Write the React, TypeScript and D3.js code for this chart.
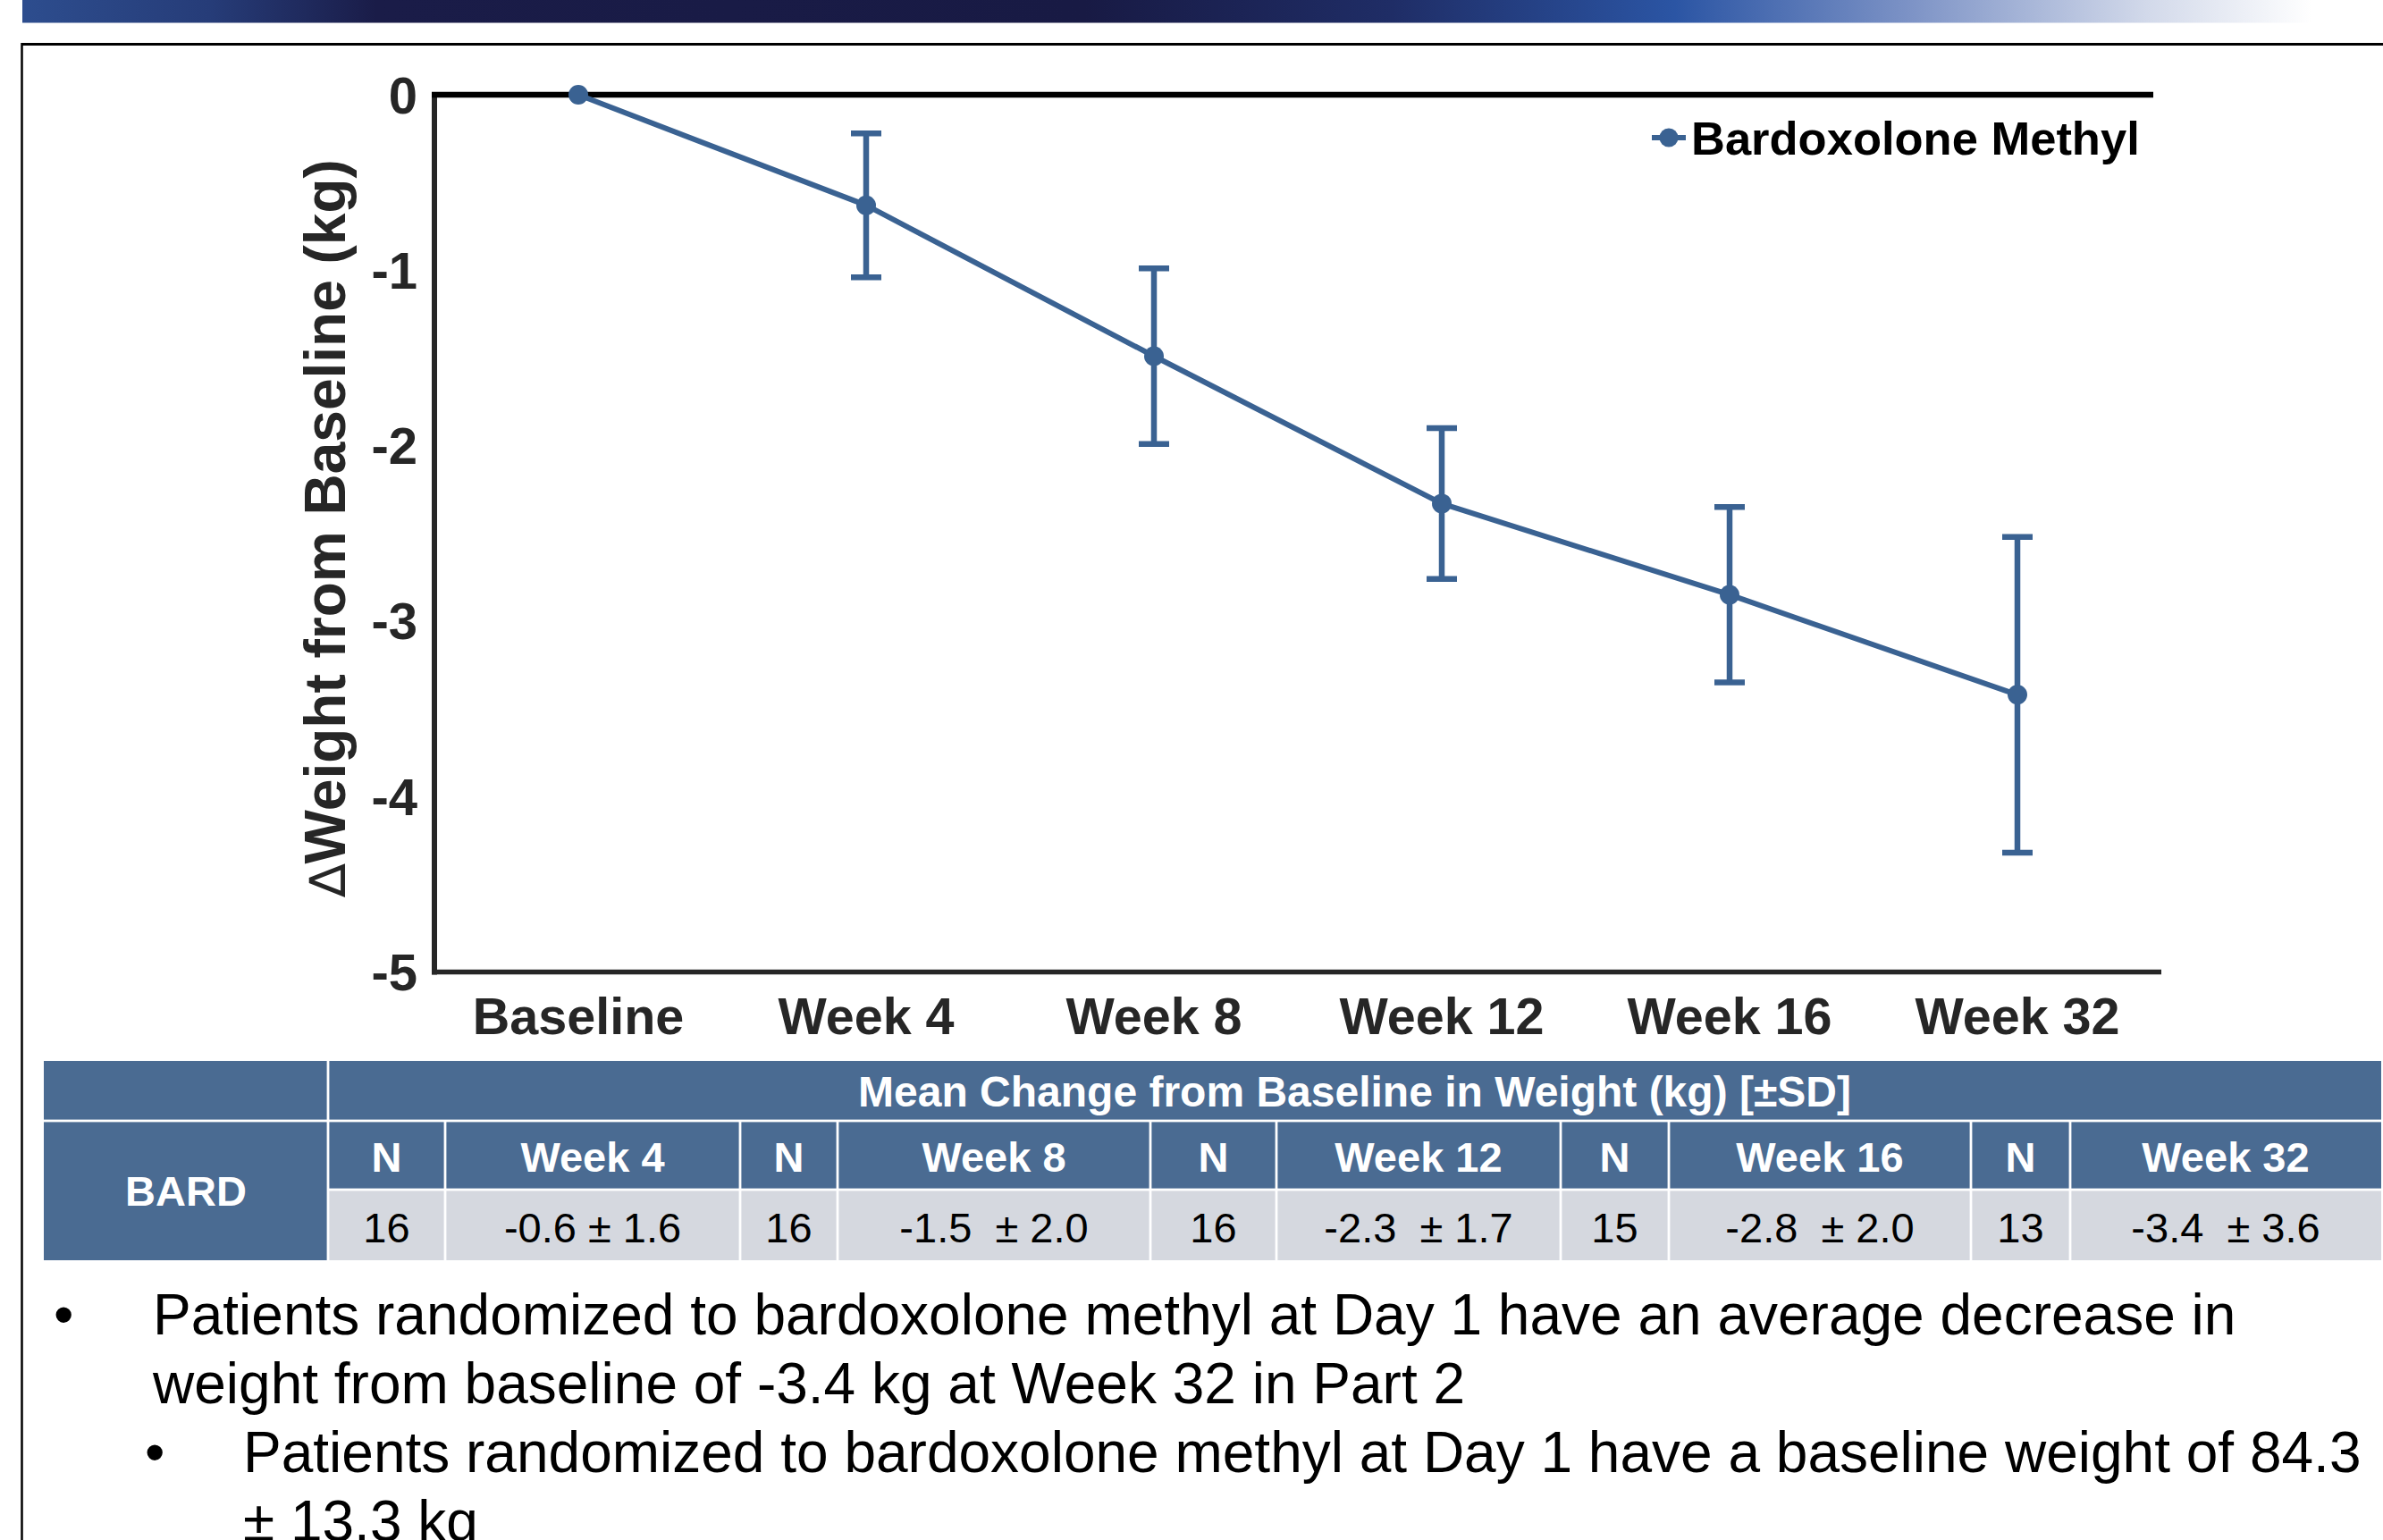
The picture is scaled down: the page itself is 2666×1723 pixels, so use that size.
import React from 'react';
import * as d3 from 'd3';

// ---------- data ----------
const categories = ['Baseline', 'Week 4', 'Week 8', 'Week 12', 'Week 16', 'Week 32'];
const meanChange = [0, -0.63, -1.49, -2.33, -2.85, -3.42];
const errorHalf = [0, 0.41, 0.50, 0.43, 0.50, 0.90];
const yTicks = [0, -1, -2, -3, -4, -5];
const seriesName = 'Bardoxolone Methyl';

const tableTitle = 'Mean Change from Baseline in Weight (kg) [±SD]';
const tableGroup = 'BARD';
const tableWeeks = ['Week 4', 'Week 8', 'Week 12', 'Week 16', 'Week 32'];
const tableN = ['16', '16', '16', '15', '13'];
const tableValues = ['-0.6 ± 1.6', '-1.5  ± 2.0', '-2.3  ± 1.7', '-2.8  ± 2.0', '-3.4  ± 3.6'];

const bulletLines = [
  { level: 0, bullet: true, text: 'Patients randomized to bardoxolone methyl at Day 1 have an average decrease in' },
  { level: 0, bullet: false, text: 'weight from baseline of -3.4 kg at Week 32 in Part 2' },
  { level: 1, bullet: true, text: 'Patients randomized to bardoxolone methyl at Day 1 have a baseline weight of 84.3' },
  { level: 1, bullet: false, text: '± 13.3 kg' },
];

// ---------- layout ----------
const W = 2666;
const H = 1723;
const FONT = '"Liberation Sans", Arial, Helvetica, sans-serif';
const BLUE = '#3A6292';
const AXIS = '#262626';
const HEAD = '#4A6B92';
const CELL = '#D5D8DF';

const x = d3.scaleBand<string>().domain(categories).range([486, 2418]).padding(0);
const y = d3.scaleLinear().domain([-5, 0]).range([1087.5, 106]);

// table column boundaries
const colEdges = [49, 367, 498, 828, 937, 1287, 1428, 1746, 1867, 2205, 2316, 2664];
const rowEdges = [1187, 1254, 1331, 1410];

export default function App() {
  const line = d3
    .line<number>()
    .x((_, i) => (x(categories[i]) as number) + x.bandwidth() / 2)
    .y((d) => y(d));

  const cx = (i: number) => (x(categories[i]) as number) + x.bandwidth() / 2;
  const gap = 1.4;

  const cells: React.ReactNode[] = [];
  cells.push(
    <rect key="r0c0" x={colEdges[0]} y={rowEdges[0]} width={colEdges[1] - colEdges[0] - gap} height={rowEdges[1] - rowEdges[0] - gap} fill={HEAD} />
  );
  cells.push(
    <rect key="r0c1" x={colEdges[1] + gap} y={rowEdges[0]} width={colEdges[11] - colEdges[1] - gap} height={rowEdges[1] - rowEdges[0] - gap} fill={HEAD} />
  );
  cells.push(
    <text key="title" x={(colEdges[1] + colEdges[11]) / 2} y={(rowEdges[0] + rowEdges[1]) / 2 + 17} textAnchor="middle" fontFamily={FONT} fontWeight="bold" fontSize={48} fill="#ffffff">
      {tableTitle}
    </text>
  );
  cells.push(
    <rect key="bard" x={colEdges[0]} y={rowEdges[1] + gap} width={colEdges[1] - colEdges[0] - gap} height={rowEdges[3] - rowEdges[1] - gap} fill={HEAD} />
  );
  cells.push(
    <text key="bardt" x={(colEdges[0] + colEdges[1]) / 2} y={(rowEdges[1] + rowEdges[3]) / 2 + 17} textAnchor="middle" fontFamily={FONT} fontWeight="bold" fontSize={47} fill="#ffffff">
      {tableGroup}
    </text>
  );
  for (let c = 1; c < 11; c++) {
    const x0 = colEdges[c] + gap;
    const w = colEdges[c + 1] - colEdges[c] - 2 * gap + (c === 10 ? gap : 0);
    const k = Math.floor((c - 1) / 2);
    const isN = (c - 1) % 2 === 0;
    const mid = (colEdges[c] + colEdges[c + 1]) / 2;
    cells.push(<rect key={`h${c}`} x={x0} y={rowEdges[1] + gap} width={w} height={rowEdges[2] - rowEdges[1] - 2 * gap} fill={HEAD} />);
    cells.push(<rect key={`d${c}`} x={x0} y={rowEdges[2] + gap} width={w} height={rowEdges[3] - rowEdges[2] - gap} fill={CELL} />);
    cells.push(
      <text key={`ht${c}`} x={mid} y={(rowEdges[1] + rowEdges[2]) / 2 + 18.5} textAnchor="middle" fontFamily={FONT} fontWeight="bold" fontSize={47} fill="#ffffff">
        {isN ? 'N' : tableWeeks[k]}
      </text>
    );
    cells.push(
      <text key={`dt${c}`} x={mid} y={(rowEdges[2] + rowEdges[3]) / 2 + 19} textAnchor="middle" fontFamily={FONT} fontSize={47} fill="#000000" style={{ whiteSpace: 'pre' }}>
        {isN ? tableN[k] : tableValues[k]}
      </text>
    );
  }

  return (
    <svg
      width={W}
      height={H}
      viewBox={`0 0 ${W} ${H}`}
      style={{ position: 'absolute', left: 0, top: 0, display: 'block', background: '#ffffff' }}
    >
      <defs>
        <linearGradient id="topbar" x1="0" x2="1" y1="0" y2="0">
          <stop offset="0" stopColor="#2d4d8e" />
          <stop offset="0.08" stopColor="#263c78" />
          <stop offset="0.15" stopColor="#1a1c48" />
          <stop offset="0.45" stopColor="#181a44" />
          <stop offset="0.58" stopColor="#1f2d66" />
          <stop offset="0.7" stopColor="#2b55a4" />
          <stop offset="0.8" stopColor="#7d93c6" />
          <stop offset="0.9" stopColor="#d2d9ea" />
          <stop offset="0.97" stopColor="#ffffff" />
        </linearGradient>
      </defs>
      <rect x={0} y={0} width={W} height={H} fill="#ffffff" />
      <rect x={25} y={0} width={W - 25} height={25.5} fill="url(#topbar)" />
      <line x1={24} x2={W} y1={49.5} y2={49.5} stroke="#000" strokeWidth={3} />
      <line x1={24.5} x2={24.5} y1={48} y2={H} stroke="#000" strokeWidth={2.5} />

      {/* axes */}
      <line x1={486} x2={486} y1={y(0) - 3} y2={y(-5) + 3} stroke={AXIS} strokeWidth={6} />
      <line x1={483} x2={2418} y1={y(-5)} y2={y(-5)} stroke={AXIS} strokeWidth={5.5} />
      <line x1={483} x2={2409} y1={y(0)} y2={y(0)} stroke="#000" strokeWidth={6.5} />

      {yTicks.map((t) => (
        <text key={t} x={467} y={y(t) + 20.5} textAnchor="end" fontFamily={FONT} fontWeight="bold" fontSize={58} fill={AXIS}>
          {t}
        </text>
      ))}
      {categories.map((c, i) => (
        <text key={c} x={cx(i)} y={1157} textAnchor="middle" fontFamily={FONT} fontWeight="bold" fontSize={57.5} fill={AXIS}>
          {c}
        </text>
      ))}
      <text
        transform={`translate(386, 591) rotate(-90)`}
        textAnchor="middle"
        fontFamily={FONT}
        fontWeight="bold"
        fontSize={64}
        fill={AXIS}
      >
        <tspan fontWeight="normal" fontFamily='"DejaVu Sans", sans-serif' fontSize={56}>∆</tspan>Weight from Baseline (kg)
      </text>

      {/* error bars */}
      {meanChange.map((m, i) =>
        errorHalf[i] > 0 ? (
          <g key={`e${i}`} stroke={BLUE} strokeWidth={6.5}>
            <line x1={cx(i)} x2={cx(i)} y1={y(m + errorHalf[i])} y2={y(m - errorHalf[i])} />
            <line x1={cx(i) - 17} x2={cx(i) + 17} y1={y(m + errorHalf[i])} y2={y(m + errorHalf[i])} />
            <line x1={cx(i) - 17} x2={cx(i) + 17} y1={y(m - errorHalf[i])} y2={y(m - errorHalf[i])} />
          </g>
        ) : null
      )}
      <path d={line(meanChange) || ''} fill="none" stroke={BLUE} strokeWidth={6} strokeLinejoin="round" />
      {meanChange.map((m, i) => (
        <circle key={`p${i}`} cx={cx(i)} cy={y(m)} r={11} fill={BLUE} />
      ))}

      {/* legend */}
      <line x1={1848} x2={1886} y1={154} y2={154} stroke={BLUE} strokeWidth={6} />
      <circle cx={1867} cy={154} r={10.5} fill={BLUE} />
      <text x={1892} y={172.5} fontFamily={FONT} fontWeight="bold" fontSize={52.5} fill="#000">
        {seriesName}
      </text>

      {/* table */}
      <g>{cells}</g>

      {/* bullet text */}
      {bulletLines.map((b, i) => {
        const baseY = 1493 + i * 77;
        const bx = b.level === 0 ? 60 : 162;
        const tx = b.level === 0 ? 171 : 272;
        return (
          <g key={`b${i}`}>
            {b.bullet && (
              <text x={bx} y={baseY} fontFamily={FONT} fontSize={64} fill="#000">
                •
              </text>
            )}
            <text x={tx} y={baseY} fontFamily={FONT} fontSize={64} fill="#000">
              {b.text}
            </text>
          </g>
        );
      })}
    </svg>
  );
}
